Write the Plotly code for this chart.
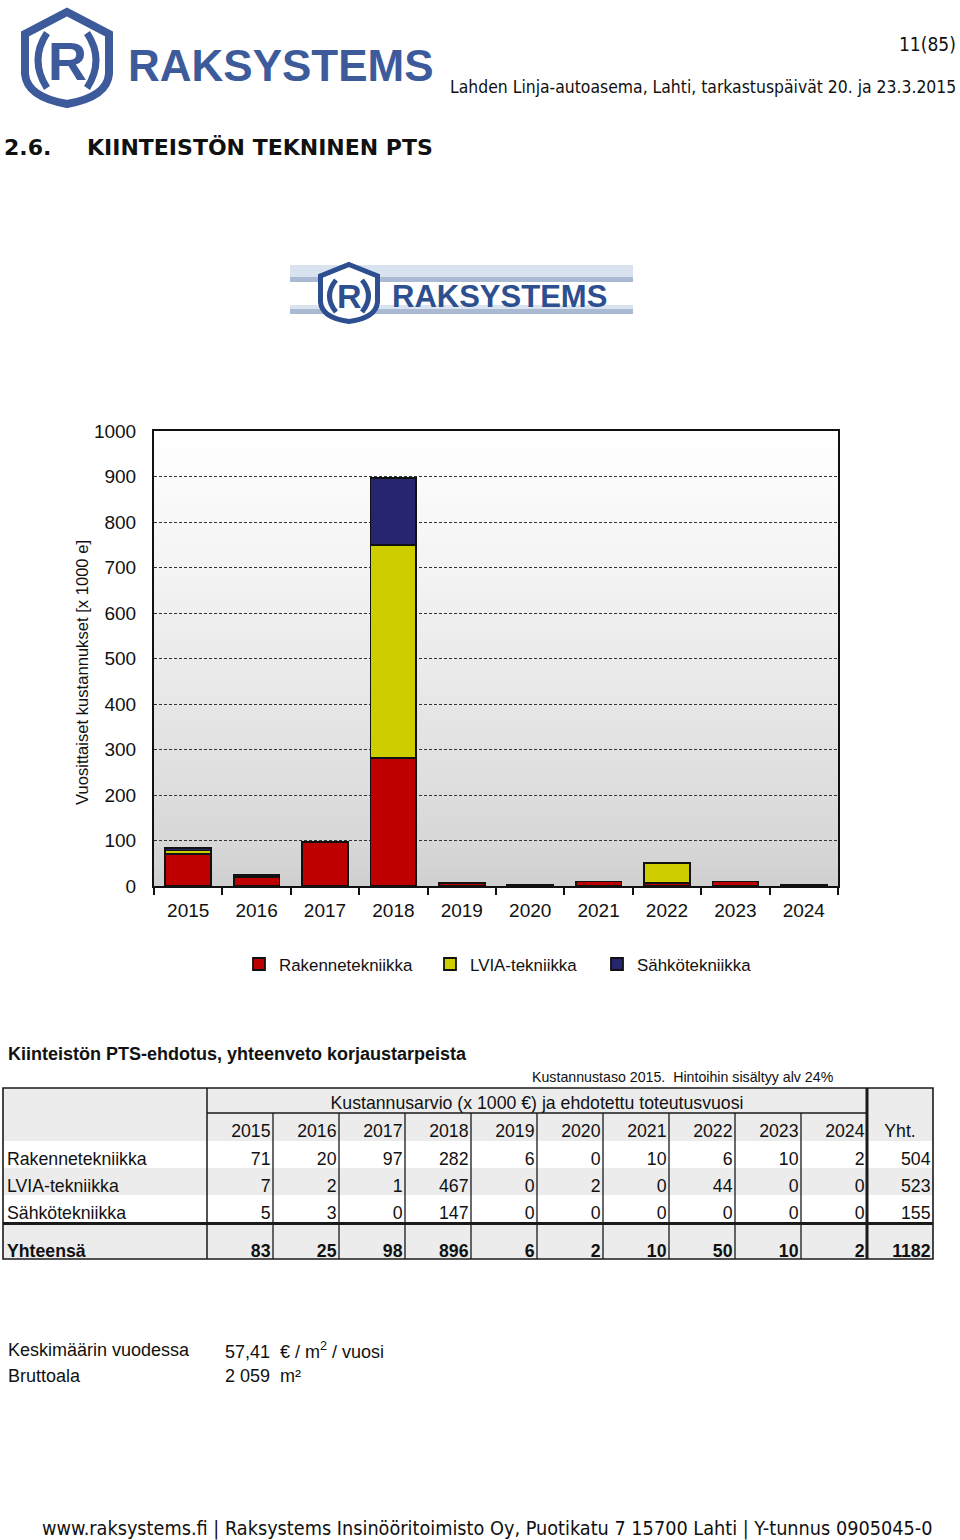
import plotly.graph_objects as go

W, H = 960, 1540

# ---------------- data ----------------
years = ["2015", "2016", "2017", "2018", "2019", "2020", "2021", "2022", "2023", "2024"]
series_names = ["Rakennetekniikka", "LVIA-tekniikka", "Sähkötekniikka"]
rakenne = [71, 20, 97, 282, 6, 0, 10, 6, 10, 2]
lvia = [7, 2, 1, 467, 0, 2, 0, 44, 0, 0]
sahko = [5, 3, 0, 147, 0, 0, 0, 0, 0, 0]
y_ticks = [0, 100, 200, 300, 400, 500, 600, 700, 800, 900, 1000]
total_label = "Yhteensä"
sum_label = "Yht."
avg_label = "Keskimäärin vuodessa"
avg_value = "57,41"
area_label = "Bruttoala"
area_value = "2 059"

series_values = [rakenne, lvia, sahko]
series_colors = ["#bf0000", "#cdcd00", "#262670"]
totals_by_year = [sum(v) for v in zip(*series_values)]
totals_by_series = [sum(s) for s in series_values]
grand_total = sum(totals_by_series)

LOGO = "#3d5b9b"
LOGO2 = "#2d4f90"
SANS = "Liberation Sans, Arial, sans-serif"
TAHOMA = "DejaVu Sans Condensed, DejaVu Sans, sans-serif"


def px(x):
    return x / W


def py(y):
    return 1 - y / H


def path(segs, close=False):
    out = []
    for cmd, pts in segs:
        out.append(cmd + " ".join(f"{px(x):.5f},{py(y):.5f}" for x, y in pts))
    s = " ".join(out)
    return s + (" Z" if close else "")


fig = go.Figure()

# ---------------- bar chart ----------------
legends = ["legend", "legend2", "legend3"]
for name, vals, col, lg in zip(series_names, series_values, series_colors, legends):
    fig.add_trace(go.Bar(
        x=years, y=vals, name=name, marker=dict(color=col, line=dict(color="#111", width=1.8)),
        xaxis="x", yaxis="y", legend=lg, hoverinfo="skip"))

# ---------------- table (on its own axes: x in columns, y in rows) ----------------
COLW, ROWH = 66.0, 27.0
X0PX, Y0PX = 207.0, 1141.0


def tx(p):
    return (p - X0PX) / COLW


def ty(p):
    return (p - Y0PX) / ROWH


TOFF = 3.5  # visual centring correction for text
tfont = dict(family=SANS, size=17.7, color="#111")
rows_y = [ty(1157 + TOFF), ty(1184 + TOFF), ty(1211 + TOFF)]
total_y = ty(1249 + TOFF)
head_y = ty(1129 + TOFF)
pad = 2.5 / COLW

# header years
fig.add_trace(go.Scatter(
    x=[i + 1 - pad for i in range(len(years))], y=[head_y] * len(years), text=years,
    mode="text", textposition="middle left", textfont=tfont,
    xaxis="x2", yaxis="y2", showlegend=False, hoverinfo="skip"))
fig.add_trace(go.Scatter(
    x=[len(years) + 0.5], y=[head_y], text=[sum_label], mode="text", textposition="middle center",
    textfont=tfont, xaxis="x2", yaxis="y2", showlegend=False, hoverinfo="skip"))
fig.add_trace(go.Scatter(
    x=[len(years) / 2], y=[ty(1101 + TOFF)], text=["Kustannusarvio (x 1000 €) ja ehdotettu toteutusvuosi"],
    mode="text", textposition="middle center", textfont=tfont,
    xaxis="x2", yaxis="y2", showlegend=False, hoverinfo="skip"))
# row labels
fig.add_trace(go.Scatter(
    x=[tx(7)] * 3, y=rows_y, text=series_names, mode="text", textposition="middle right",
    textfont=tfont, xaxis="x2", yaxis="y2", showlegend=False, hoverinfo="skip"))
# values
for r, vals in enumerate(series_values):
    fig.add_trace(go.Scatter(
        x=[i + 1 - pad for i in range(len(vals))] + [len(years) + 1 - pad],
        y=[rows_y[r]] * (len(vals) + 1),
        text=[str(v) for v in vals] + [str(totals_by_series[r])],
        mode="text", textposition="middle left", textfont=tfont,
        xaxis="x2", yaxis="y2", showlegend=False, hoverinfo="skip"))
# totals row
bfont = dict(family=SANS, size=17.7, color="#111", weight="bold")
fig.add_trace(go.Scatter(
    x=[tx(7)], y=[total_y], text=[total_label], mode="text", textposition="middle right",
    textfont=bfont, xaxis="x2", yaxis="y2", showlegend=False, hoverinfo="skip"))
fig.add_trace(go.Scatter(
    x=[i + 1 - pad for i in range(len(years))] + [len(years) + 1 - pad],
    y=[total_y] * (len(years) + 1),
    text=[str(v) for v in totals_by_year] + [str(grand_total)],
    mode="text", textposition="middle left", textfont=bfont,
    xaxis="x2", yaxis="y2", showlegend=False, hoverinfo="skip"))

shapes = []

# plot background gradient
NB = 48
for i in range(NB):
    t = i / (NB - 1)
    g = int(round(208 + (255 - 208) * (t ** 0.8)))
    shapes.append(dict(type="rect", xref="x domain", yref="y domain", x0=0, x1=1,
                       y0=i / NB, y1=(i + 1) / NB + 0.002, line=dict(width=0),
                       fillcolor=f"rgb({g},{g},{g})", layer="below"))

# table fills
GREY = "#ececec"
tl, tr = tx(3), tx(933)
for y0, y1 in [(1088, 1141), (1168, 1195), (1225, 1259)]:
    shapes.append(dict(type="rect", xref="x2", yref="y2", x0=tl, x1=tr, y0=ty(y0), y1=ty(y1),
                       line=dict(width=0), fillcolor=GREY, layer="below"))
LC = "#1a1a1a"
shapes.append(dict(type="rect", xref="x2", yref="y2", x0=tl, x1=tr, y0=ty(1088), y1=ty(1259),
                   line=dict(color=LC, width=1.6)))
shapes.append(dict(type="line", xref="x2", yref="y2", x0=0, x1=len(years), y0=ty(1113), y1=ty(1113),
                   line=dict(color=LC, width=1.3)))
shapes.append(dict(type="line", xref="x2", yref="y2", x0=0, x1=0, y0=ty(1088), y1=ty(1259),
                   line=dict(color=LC, width=1.5)))
for k in range(1, len(years)):
    shapes.append(dict(type="line", xref="x2", yref="y2", x0=k, x1=k, y0=ty(1113), y1=ty(1259),
                       line=dict(color=LC, width=1.3)))
shapes.append(dict(type="line", xref="x2", yref="y2", x0=len(years), x1=len(years), y0=ty(1088),
                   y1=ty(1259), line=dict(color=LC, width=3)))
shapes.append(dict(type="line", xref="x2", yref="y2", x0=tl, x1=tr, y0=ty(1223.5), y1=ty(1223.5),
                   line=dict(color=LC, width=3)))

# ---------------- logos ----------------
# big header logo
shapes.append(dict(type="path", xref="paper", yref="paper", line=dict(color=LOGO, width=8),
                   fillcolor="rgba(0,0,0,0)",
                   path=path([("M", [(67, 12)]), ("L", [(109, 34)]), ("L", [(109, 74)]),
                              ("Q", [(107, 97), (67, 104)]), ("Q", [(27, 97), (25, 74)]),
                              ("L", [(25, 34)])], close=True)))
shapes.append(dict(type="path", xref="paper", yref="paper", line=dict(color=LOGO, width=7),
                   path=path([("M", [(47, 33)]), ("Q", [(29, 60), (47, 88)])])))
shapes.append(dict(type="path", xref="paper", yref="paper", line=dict(color=LOGO, width=7),
                   path=path([("M", [(87, 33)]), ("Q", [(105, 60), (87, 88)])])))

# centre logo bands
for y0, y1, c in [(265, 277, "#d9e3ef"), (277, 282, "#a9bad2"), (305, 309, "#d9e3ef"), (309, 314, "#a9bad2")]:
    shapes.append(dict(type="rect", xref="paper", yref="paper", x0=px(290), x1=px(633),
                       y0=py(y1), y1=py(y0), line=dict(width=0), fillcolor=c))
shapes.append(dict(type="path", xref="paper", yref="paper", line=dict(color=LOGO2, width=5),
                   fillcolor="white",
                   path=path([("M", [(349, 264.5)]), ("L", [(377.5, 276)]), ("L", [(377.5, 302)]),
                              ("Q", [(376, 318), (349, 321.5)]), ("Q", [(322, 318), (320.5, 302)]),
                              ("L", [(320.5, 276)])], close=True)))
shapes.append(dict(type="path", xref="paper", yref="paper", line=dict(color=LOGO2, width=5),
                   path=path([("M", [(336, 280)]), ("Q", [(323, 296), (336, 312)])])))
shapes.append(dict(type="path", xref="paper", yref="paper", line=dict(color=LOGO2, width=5),
                   path=path([("M", [(362, 280)]), ("Q", [(375, 296), (362, 312)])])))

annotations = []


def ann(text, x, y, size, family=SANS, color="#111", xanchor="left", bold=False, angle=0):
    annotations.append(dict(
        text=f"<b>{text}</b>" if bold else text, x=px(x), y=py(y), xref="paper", yref="paper",
        xanchor=xanchor, yanchor="middle", showarrow=False, textangle=angle,
        font=dict(family=family, size=size, color=color)))


ann("R", 67, 61, 54, color=LOGO, xanchor="center", bold=True)
ann("RAKSYSTEMS", 126, 66, 44, color=LOGO, bold=True)
ann("11(85)", 958, 44, 19, family=TAHOMA, xanchor="right")
ann("Lahden Linja-autoasema, Lahti, tarkastuspäivät 20. ja 23.3.2015", 958, 87, 17.4,
    family=TAHOMA, xanchor="right")
ann("2.6.", 2, 147, 22, family="DejaVu Sans, sans-serif", bold=True)
ann("KIINTEISTÖN TEKNINEN PTS", 85, 147, 22, family="DejaVu Sans, sans-serif", bold=True)
ann("R", 349, 296, 34, color=LOGO2, xanchor="center", bold=True)
ann("RAKSYSTEMS", 390, 296, 31, color=LOGO2, bold=True)
ann("Vuosittaiset kustannukset [x 1000 e]", 82, 673, 16.6, xanchor="center", angle=-90)
ann("Kiinteistön PTS-ehdotus, yhteenveto korjaustarpeista", 6, 1054, 18, bold=True)
ann("Kustannustaso 2015.  Hintoihin sisältyy alv 24%", 530, 1077, 14.2)
ann(avg_label, 6, 1350, 18)
ann(f"{avg_value}  € / m<sup>2</sup> / vuosi", 223, 1350, 18)
ann(area_label, 6, 1376, 18)
ann(f"{area_value}  m²", 223, 1376, 18)
ann("www.raksystems.fi | Raksystems Insinööritoimisto Oy, Puotikatu 7 15700 Lahti | Y-tunnus 0905045-0",
    487, 1528, 19.7, family=TAHOMA, xanchor="center")

leg_common = dict(orientation="h", xanchor="left", yanchor="middle", bgcolor="rgba(0,0,0,0)",
                  borderwidth=0, font=dict(family=SANS, size=16.9, color="#111"))

fig.update_layout(
    width=W, height=H, margin=dict(l=0, r=0, t=0, b=0, autoexpand=False),
    paper_bgcolor="white", plot_bgcolor="rgba(0,0,0,0)",
    barmode="stack", bargap=0.33,
    xaxis=dict(domain=[px(154), px(838)], anchor="y", type="category",
               showline=True, mirror=True, linecolor="#111", linewidth=2,
               ticks="outside", tickson="boundaries", ticklen=7, tickwidth=1.5, tickcolor="#111",
               tickfont=dict(family=SANS, size=19, color="#111"), ticklabelstandoff=6,
               showgrid=False, zeroline=False, fixedrange=True, automargin=False),
    yaxis=dict(domain=[py(886), py(431)], anchor="x", range=[0, 1000], tickvals=y_ticks,
               showline=True, mirror=True, linecolor="#111", linewidth=2,
               ticks="", ticklabelstandoff=12,
               tickfont=dict(family=SANS, size=19, color="#111"),
               showgrid=True, gridcolor="#333", gridwidth=1, griddash="3px,2px",
               zeroline=False, fixedrange=True, automargin=False),
    xaxis2=dict(domain=[0, 1], anchor="y2", range=[tx(0), tx(W)], visible=False, fixedrange=True,
                automargin=False),
    yaxis2=dict(domain=[0, 1], anchor="x2", range=[ty(H), ty(0)], visible=False, fixedrange=True,
                automargin=False),
    legend=dict(x=px(239), y=py(964), **leg_common),
    legend2=dict(x=px(430), y=py(964), **leg_common),
    legend3=dict(x=px(597), y=py(964), **leg_common),
    shapes=shapes, annotations=annotations, showlegend=True,
)

fig.write_html("out.html")
